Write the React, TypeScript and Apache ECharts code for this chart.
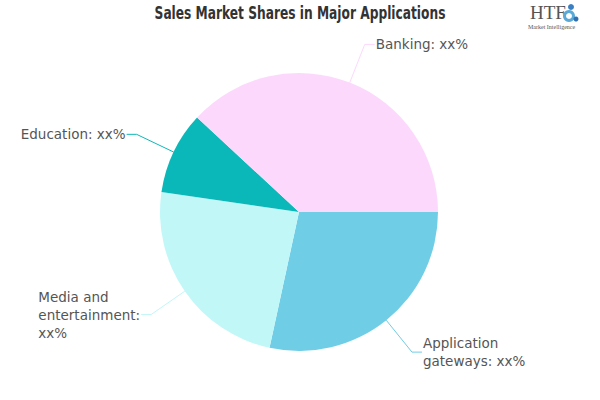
import React, { useEffect, useRef } from "react";
import * as echarts from "echarts";

const titleText = "Sales Market Shares in Major Applications";
const categories = ["Application gateways", "Media and entertainment", "Education", "Banking"];
const labelLines = [
  ["Application", "gateways: xx%"],
  ["Media and", "entertainment:", "xx%"],
  ["Education: xx%"],
  ["Banking: xx%"],
];
const values = [28.4, 23.9, 9.6, 38.1];
const colors = ["#6fcde6", "#c2f7f8", "#0bb8b9", "#fcd9fc"];

export default function App() {
  const ref = useRef<HTMLDivElement>(null);
  useEffect(() => {
    document.body.style.margin = "0";
    const chart = echarts.init(ref.current!, null, { renderer: "svg" });
    chart.setOption({
      animation: false,
      backgroundColor: "#ffffff",
      graphic: [
        {
          type: "text",
          x: 300,
          y: 13,
          scaleX: 0.8,
          style: {
            text: titleText,
            fontFamily: "DejaVu Sans Condensed",
            fontWeight: "bold",
            fontSize: 17,
            fill: "#333333",
            align: "center",
            verticalAlign: "middle",
          },
        },
        {
          type: "text",
          left: 530,
          top: 3,
          style: { text: "HTF", fontFamily: "Liberation Serif", fontSize: 19, fill: "#555555" },
        },
        {
          type: "circle",
          shape: { cx: 571, cy: 7, r: 3 },
          style: { fill: "#3a7fc2" },
        },
        {
          type: "ring",
          shape: { cx: 569, cy: 16, r: 6, r0: 3 },
          style: { fill: "#5aa9d6" },
        },
        {
          type: "circle",
          shape: { cx: 576, cy: 19, r: 2.5 },
          style: { fill: "#2f6fb0" },
        },
        {
          type: "text",
          left: 528,
          top: 24,
          style: { text: "Market Intelligence", fontFamily: "Liberation Serif", fontSize: 6, fill: "#555555" },
        },
      ],
      series: [
        {
          type: "pie",
          center: [299, 212],
          radius: 139,
          startAngle: 0,
          clockwise: true,
          avoidLabelOverlap: false,
          data: categories.map((name, i) => ({
            name,
            value: values[i],
            itemStyle: { color: colors[i] },
            labelLine: { lineStyle: { color: colors[i] } },
          })),
          label: {
            distanceToLabelLine: 1,
            formatter: (p: any) =>
              labelLines[p.dataIndex].map((l) => "{a|" + l + "}").join("\n"),
            rich: {
              a: {
                align: "left",
                fontFamily: "DejaVu Sans",
                fontSize: 13.5,
                lineHeight: 18,
                color: "#555555",
              },
            },
          },
          labelLine: { length: 41, length2: 10, lineStyle: { width: 1 } },
        },
      ],
    });
    return () => chart.dispose();
  }, []);
  return <div ref={ref} style={{ width: 600, height: 400 }} />;
}
